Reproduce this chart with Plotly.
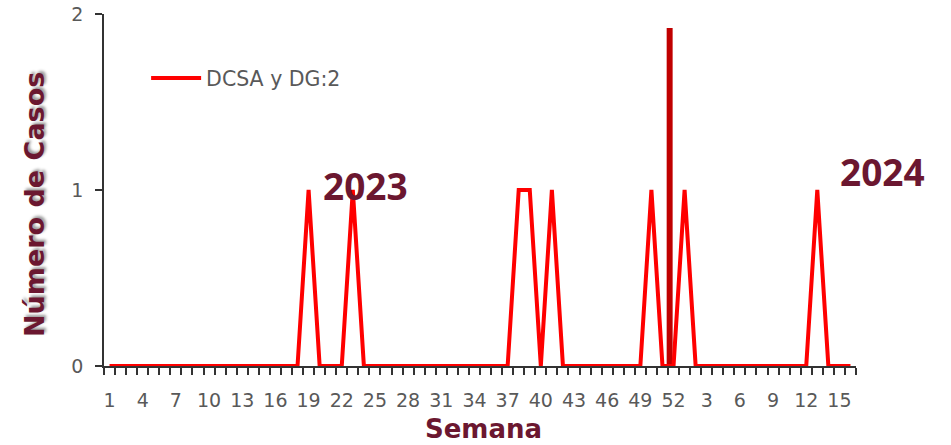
import plotly.graph_objects as go

# semanas epidemiologicas: 2023 (1-52) y 2024 (1-16)
weeks_2023 = list(range(1, 53))
weeks_2024 = list(range(1, 17))
week_labels = [str(w) for w in weeks_2023 + weeks_2024]

cases_2023 = [0] * 52
for w in (19, 23, 38, 39, 41, 50):
    cases_2023[w - 1] = 1
cases_2024 = [0] * 16
for w in (1, 13):
    cases_2024[w - 1] = 1
cases = cases_2023 + cases_2024

# barra que separa los años (en la semana 52)
divider_week = [52]
divider_value = [1.92]

series_name = "DCSA y DG:2"
maroon = "#6B1730"
gray = "#595959"
axis_color = "#333333"
base_font = "DejaVu Sans, sans-serif"
year_font = "Noto Sans, sans-serif"

x = list(range(1, len(cases) + 1))
tick_pos = x[::3]
tick_text = week_labels[::3]

fig = go.Figure()
fig.add_trace(go.Bar(
    x=divider_week, y=divider_value,
    width=0.54, offset=-0.62,
    marker=dict(color="#C00000", line=dict(width=0)),
    showlegend=False, hoverinfo="skip",
))
fig.add_trace(go.Scatter(
    x=x, y=cases, mode="lines", name=series_name,
    line=dict(color="#FF0000", width=4),
))

fig.update_layout(
    width=951, height=445,
    margin=dict(l=104, r=95, t=14, b=79),
    plot_bgcolor="white", paper_bgcolor="white",
    font=dict(family=base_font, color=gray, size=19),
    legend=dict(x=0.056, y=0.818, xanchor="left", yanchor="middle",
                itemwidth=50, bgcolor="rgba(0,0,0,0)",
                font=dict(size=20.5, color=gray)),
    xaxis=dict(
        range=[0.5, len(cases) + 0.5], automargin=False,
        tickmode="array", tickvals=tick_pos, ticktext=tick_text,
        ticks="", showgrid=False, zeroline=False,
        showline=True, linecolor=axis_color, linewidth=1.5,
        tickfont=dict(size=19, color=gray), ticklabelstandoff=16,
        minor=dict(tickmode="linear", tick0=0.5, dtick=1, ticks="outside",
                   ticklen=7, tickcolor=axis_color, tickwidth=1.5, showgrid=False),
    ),
    yaxis=dict(
        range=[0, 2], tickvals=[0, 1, 2], ticks="outside", ticklen=7,
        tickcolor=axis_color, tickwidth=1.5, automargin=False,
        showgrid=False, zeroline=False,
        showline=True, linecolor=axis_color, linewidth=1.5,
        tickfont=dict(size=19, color=gray), ticklabelstandoff=8,
    ),
    annotations=[
        dict(text="<b>Número de Casos</b>", textangle=-90,
             x=-0.0932, y=0.46, xref="paper", yref="paper",
             xanchor="center", yanchor="middle", showarrow=False,
             font=dict(family=base_font, size=27, color=maroon,
                       shadow="2px 2px 3px rgba(0,0,0,0.4)")),
        dict(text="<b>Semana</b>", x=0.504, y=-0.178,
             xref="paper", yref="paper", xanchor="center", yanchor="middle",
             showarrow=False, font=dict(family=base_font, size=26, color=maroon)),
        dict(text="<b>2023</b>", x=0.348, y=0.512, xref="paper", yref="paper",
             xanchor="center", yanchor="middle", showarrow=False,
             font=dict(family=year_font, size=37, color=maroon)),
        dict(text="<b>2024</b>", x=1.035, y=0.552, xref="paper", yref="paper",
             xanchor="center", yanchor="middle", showarrow=False,
             font=dict(family=year_font, size=37, color=maroon)),
    ],
)

# quitar el margen por defecto del body para que el grafico llene la ventana
fig.write_html("out.html", config={"displayModeBar": False},
               post_script="document.body.style.margin='0';")
